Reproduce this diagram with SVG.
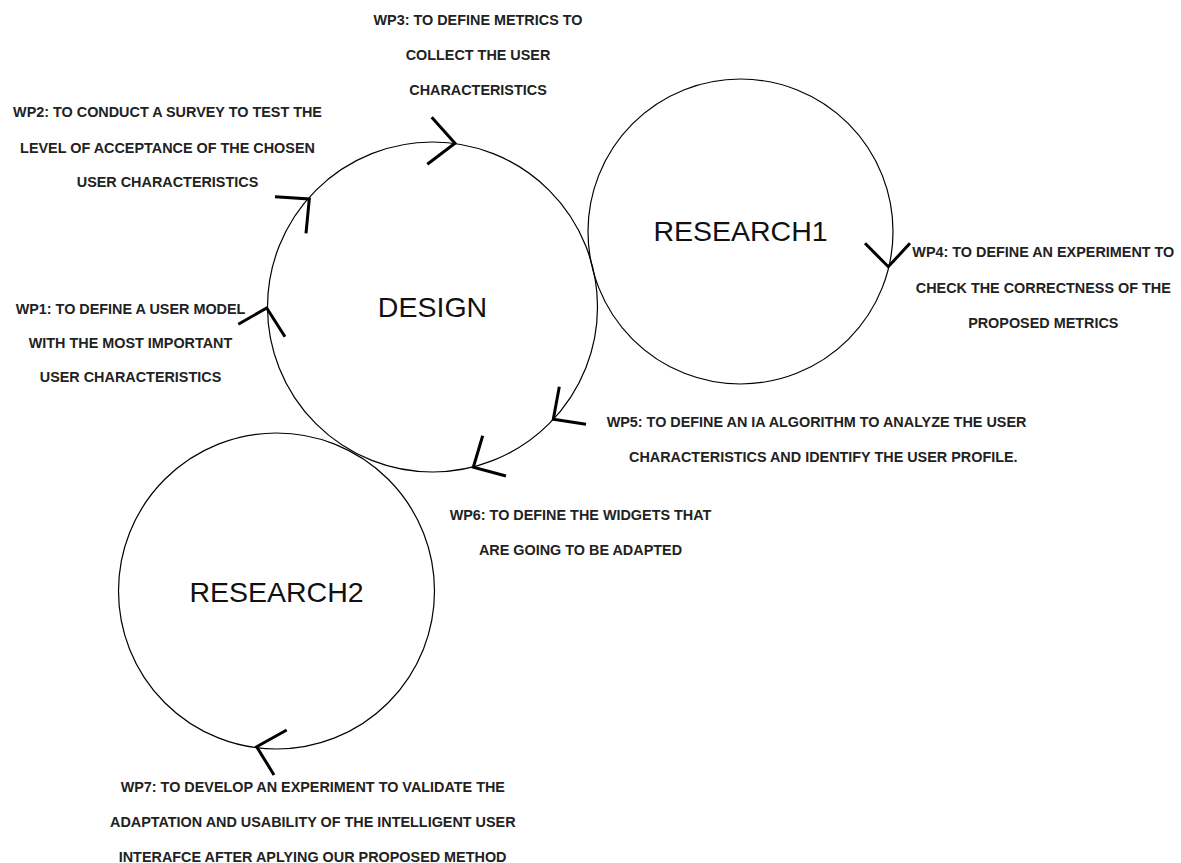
<svg xmlns="http://www.w3.org/2000/svg" width="1181" height="863" viewBox="0 0 1181 863">
<style>
.ring{fill:none;stroke:#000;stroke-width:1.2}
.big{font-family:"Liberation Sans",Arial,sans-serif;font-size:28.5px;fill:#111;text-anchor:middle}
.lbl{font-family:"Liberation Sans",Arial,sans-serif;font-size:14.4px;font-weight:bold;fill:#222;text-anchor:middle}
.arr{fill:none;stroke:#000;stroke-width:3;stroke-linejoin:miter;stroke-linecap:butt}
</style>
<rect width="1181" height="863" fill="#fff"/>
<g id="design">
<circle class="ring" cx="432.5" cy="307" r="165"/>
<text class="big" x="432.5" y="317.3">DESIGN</text>
</g>
<g id="research1">
<circle class="ring" cx="740.5" cy="231.5" r="152.5"/>
<text class="big" x="740.5" y="240.7">RESEARCH1</text>
</g>
<g id="research2">
<circle class="ring" cx="276.5" cy="591" r="158"/>
<text class="big" x="276.5" y="601.5">RESEARCH2</text>
</g>
<g id="connectors">
<polyline class="arr" points="431.7,117.3 455,143.3 427.3,164.3"/>
<polyline class="arr" points="275,196.7 309.3,199 306,233.3"/>
<polyline class="arr" points="238.3,324.3 266.7,308 285,336.7"/>
<polyline class="arr" points="865,243.3 888.3,266.7 910,243.3"/>
<polyline class="arr" points="559.3,386.7 553.3,419.3 586,424.3"/>
<polyline class="arr" points="482.7,435.7 473.3,467.3 506,476"/>
<polyline class="arr" points="286.7,730 256.7,746.7 274,775"/>
</g>
<g id="wp1">
<text class="lbl" x="130.5" y="313.5">WP1: TO DEFINE A USER MODEL</text>
<text class="lbl" x="130.5" y="347.5">WITH THE MOST IMPORTANT</text>
<text class="lbl" x="130.5" y="381.5">USER CHARACTERISTICS</text>
</g>
<g id="wp2">
<text class="lbl" x="167.5" y="117.3">WP2: TO CONDUCT A SURVEY TO TEST THE</text>
<text class="lbl" x="167.5" y="152.5">LEVEL OF ACCEPTANCE OF THE CHOSEN</text>
<text class="lbl" x="167.5" y="187.3">USER CHARACTERISTICS</text>
</g>
<g id="wp3">
<text class="lbl" x="478" y="25">WP3: TO DEFINE METRICS TO</text>
<text class="lbl" x="478" y="60">COLLECT THE USER</text>
<text class="lbl" x="478" y="95">CHARACTERISTICS</text>
</g>
<g id="wp4">
<text class="lbl" x="1043.3" y="257.3">WP4: TO DEFINE AN EXPERIMENT TO</text>
<text class="lbl" x="1043.3" y="293">CHECK THE CORRECTNESS OF THE</text>
<text class="lbl" x="1043.3" y="328.3">PROPOSED METRICS</text>
</g>
<g id="wp5">
<text class="lbl" x="816.5" y="426.8">WP5: TO DEFINE AN IA ALGORITHM TO ANALYZE THE USER</text>
<text class="lbl" x="823.3" y="462.2">CHARACTERISTICS AND IDENTIFY THE USER PROFILE.</text>
</g>
<g id="wp6">
<text class="lbl" x="580.5" y="519.5">WP6: TO DEFINE THE WIDGETS THAT</text>
<text class="lbl" x="580.5" y="555">ARE GOING TO BE ADAPTED</text>
</g>
<g id="wp7">
<text class="lbl" x="312.8" y="791.6">WP7: TO DEVELOP AN EXPERIMENT TO VALIDATE THE</text>
<text class="lbl" x="312.8" y="826.6">ADAPTATION AND USABILITY OF THE INTELLIGENT USER</text>
<text class="lbl" x="312.6" y="862">INTERAFCE AFTER APLYING OUR PROPOSED METHOD</text>
</g>
</svg>
